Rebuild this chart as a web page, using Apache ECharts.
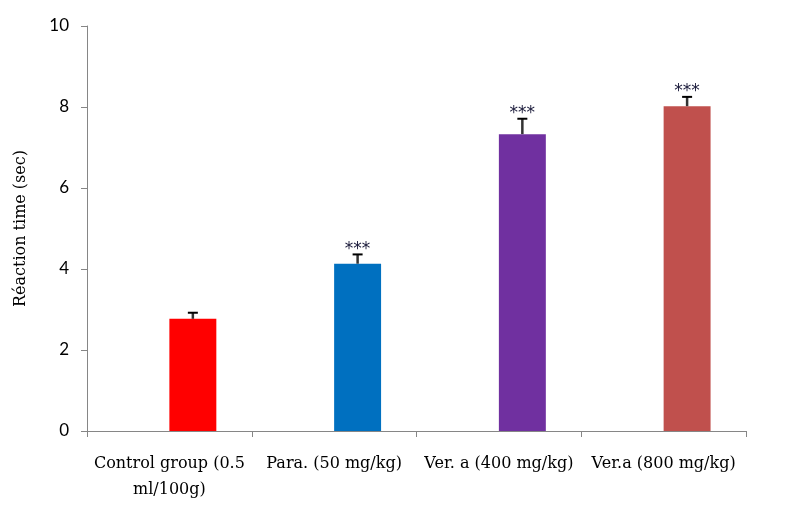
<!DOCTYPE html>
<html>
<head>
<meta charset="utf-8">
<script src="https://cdn.jsdelivr.net/npm/echarts@6/dist/echarts.min.js"></script>
<style>
html, body { margin: 0; padding: 0; background: #fff; }
#chart { width: 785px; height: 506px; }
</style>
</head>
<body>
<div id="chart"></div>
<script>
var categories = ['Control group (0.5\nml/100g)', 'Para. (50 mg/kg)', 'Ver. a (400 mg/kg)', 'Ver.a (800 mg/kg)'];
var means = [2.77, 4.13, 7.33, 8.02];
var sem = [0.15, 0.23, 0.38, 0.23];
var marks = ['', '***', '***', '***'];
var barColors = ['#FF0000', '#0070C0', '#7030A0', '#C0504D'];
var yTicks = [0, 2, 4, 6, 8, 10];

var BAR_FRAC = 0.285;

var chart = echarts.init(document.getElementById('chart'));

var errData = means.map(function (m, i) { return [i, m, sem[i], marks[i]]; });

chart.setOption({
    animation: false,
    grid: { left: 87, right: 39, top: 26, bottom: 75 },
    xAxis: {
        type: 'category',
        data: categories,
        axisLine: { lineStyle: { color: '#868686', width: 1 } },
        axisTick: { show: true, length: 6, lineStyle: { color: '#868686' } },
        axisLabel: {
            color: '#000',
            fontFamily: 'DejaVu Serif',
            fontSize: 16,
            lineHeight: 26,
            margin: 20,
            interval: 0
        }
    },
    yAxis: {
        type: 'value',
        min: yTicks[0],
        max: yTicks[yTicks.length - 1],
        interval: 2,
        name: 'Réaction time (sec)',
        nameLocation: 'middle',
        nameGap: 58,
        nameTextStyle: { color: '#000', fontFamily: 'DejaVu Serif', fontSize: 16 },
        splitLine: { show: false },
        axisLine: { show: true, lineStyle: { color: '#868686' } },
        axisTick: { show: true, length: 6, lineStyle: { color: '#868686' } },
        axisLabel: { color: '#000', fontFamily: 'Lato', fontSize: 17, margin: 18 }
    },
    series: [
        {
            type: 'bar',
            data: categories.map(function () { return '-'; }),
            barWidth: (BAR_FRAC * 100) + '%',
            barGap: '0%'
        },
        {
            type: 'bar',
            barWidth: (BAR_FRAC * 100) + '%',
            barGap: '0%',
            data: means.map(function (v, i) {
                return { value: v, itemStyle: { color: barColors[i] } };
            })
        },
        {
            type: 'custom',
            data: errData,
            z: 10,
            renderItem: function (params, api) {
                var i = api.value(0);
                var m = api.value(1);
                var e = api.value(2);
                var band = api.size([1, 0])[0];
                var off = band * BAR_FRAC / 2;
                var base = api.coord([i, m]);
                var top = api.coord([i, m + e]);
                var x = base[0] + off;
                var children = [
                    { type: 'line', shape: { x1: x, y1: base[1], x2: x, y2: top[1] },
                      style: { stroke: '#333', lineWidth: 2.5 } },
                    { type: 'line', shape: { x1: x - 5, y1: top[1], x2: x + 5, y2: top[1] },
                      style: { stroke: '#000', lineWidth: 2 } }
                ];
                var mark = errData[params.dataIndex][3];
                if (mark) {
                    children.push({
                        type: 'text',
                        style: {
                            text: mark, x: x, y: top[1] - 5,
                            align: 'center', verticalAlign: 'middle',
                            fill: '#1a1a3a', font: '17px DejaVu Sans'
                        }
                    });
                }
                return { type: 'group', children: children };
            }
        }
    ]
});
</script>
</body>
</html>
